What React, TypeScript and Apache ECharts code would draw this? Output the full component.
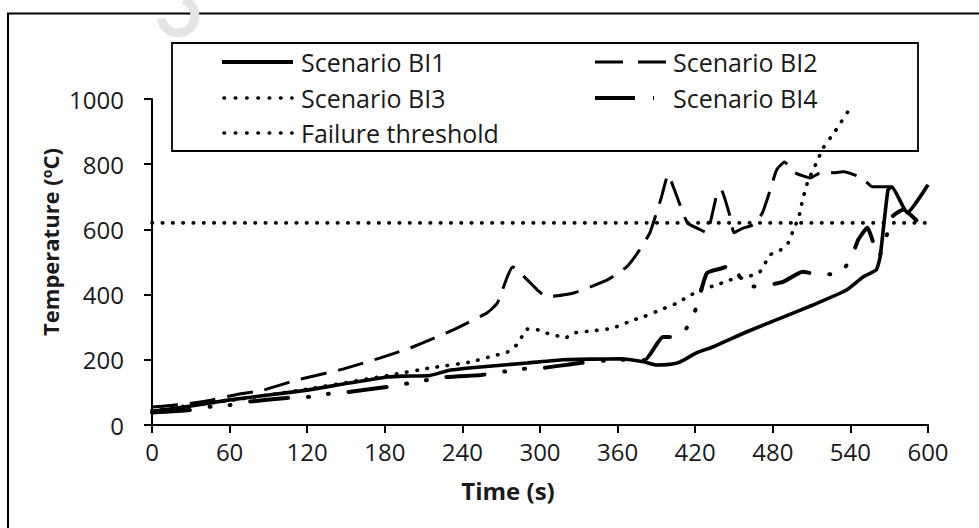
import React, { useEffect, useRef } from "react";
import * as echarts from "echarts";

// ---- data (time in s, temperature in °C) ----
const bi1Time = [0, 30, 60, 90, 120, 150, 182, 195, 215, 230, 254, 290, 318, 340, 362, 380, 390, 400, 408, 421, 434, 460, 486, 511, 537, 550, 560, 563, 569, 572, 584, 600];
const bi1Temp = [42, 58, 77, 92, 107, 127, 147, 150, 152, 168, 178, 190, 200, 202, 203, 194, 184, 186, 193, 221, 240, 286, 328, 368, 414, 455, 476, 516, 721, 731, 651, 737];

const bi2Time = [0, 20, 40, 64, 86, 112, 145, 176, 202, 233, 259, 267, 279, 298, 305, 326, 352, 367, 377, 385, 394, 399, 404, 414, 424, 429, 437, 440, 447, 450, 457, 465, 472, 478, 483, 489, 497, 509, 518, 527, 535, 549, 557, 580];
const bi2Temp = [55, 62, 72, 92, 107, 138, 169, 205, 240, 292, 344, 374, 485, 414, 393, 405, 445, 485, 537, 590, 700, 768, 721, 620, 599, 590, 712, 722, 639, 590, 604, 614, 651, 721, 783, 807, 774, 758, 776, 774, 777, 758, 731, 731];

const bi3Time = [0, 30, 60, 90, 120, 150, 184, 215, 246, 261, 275, 282, 286, 290, 298, 305, 313, 319, 326, 341, 356, 372, 380, 393, 406, 414, 424, 437, 447, 460, 470, 478, 486, 492, 496, 500, 503, 507, 513, 519, 528, 540];
const bi3Temp = [45, 60, 75, 92, 110, 130, 153, 175, 193, 209, 224, 246, 271, 294, 292, 282, 274, 266, 282, 289, 297, 322, 332, 353, 374, 393, 414, 430, 445, 454, 470, 522, 537, 559, 599, 636, 690, 746, 798, 850, 900, 973];

const bi4Time = [0, 29, 43, 60, 74, 104, 120, 135, 151, 182, 227, 254, 271, 287, 302, 331, 360, 381, 395, 407, 416, 421, 429, 440, 449, 455, 460, 468, 488, 503, 515, 532, 541, 546, 553, 562, 568, 571, 581, 591];
const bi4Temp = [38, 46, 55, 61, 71, 83, 86, 95, 101, 117, 147, 153, 163, 172, 175, 190, 200, 199, 270, 270, 313, 362, 466, 480, 491, 450, 426, 425, 439, 470, 462, 465, 516, 568, 605, 516, 580, 635, 660, 628];

const thresholdTime = [0, 600];
const thresholdTemp = [620, 620];

const xTicks = { min: 0, max: 600, interval: 60 };
const yTicks = { min: 0, max: 1000, interval: 200 };

const seriesNames = ["Scenario BI1", "Scenario BI2", "Scenario BI3", "Scenario BI4", "Failure threshold"];

const zip = (a: number[], b: number[]) => a.map((v, i) => [v, b[i]]);

const FONT = "Open Sans";
const INK = "#1a1a1a";

export default function App() {
  const ref = useRef<HTMLDivElement>(null);
  useEffect(() => {
    document.body.style.margin = "0";
    const chart = echarts.init(ref.current!, undefined, { renderer: "svg" });
    const dotStyle = { color: "#000", width: 3.6, type: [0.5, 9.8], cap: "round" as const };
    const option: any = {
      animation: false,
      backgroundColor: "#fff",
      grid: { left: 152, top: 99, right: 51, bottom: 103 },
      xAxis: {
        type: "value",
        min: xTicks.min,
        max: xTicks.max,
        interval: xTicks.interval,
        splitLine: { show: false },
        axisLine: { show: true, lineStyle: { color: "#000", width: 2 } },
        axisTick: { show: true, length: 8, lineStyle: { color: "#000", width: 2 } },
        axisLabel: { margin: 14, color: INK, fontFamily: FONT, fontSize: 24, formatter: (v: number) => String(v) },
      },
      yAxis: {
        type: "value",
        min: yTicks.min,
        max: yTicks.max,
        interval: yTicks.interval,
        splitLine: { show: false },
        axisLine: { show: true, lineStyle: { color: "#000", width: 2 } },
        axisTick: { show: true, length: 8, lineStyle: { color: "#000", width: 2 } },
        axisLabel: { margin: 28, color: INK, fontFamily: FONT, fontSize: 24, formatter: (v: number) => String(v) },
      },
      series: [
        {
          name: seriesNames[0], type: "line", data: zip(bi1Time, bi1Temp), showSymbol: false, smooth: 0.15,
          lineStyle: { color: "#000", width: 3.6, type: "solid" }, z: 5,
        },
        {
          name: seriesNames[1], type: "line", data: zip(bi2Time, bi2Temp), showSymbol: false, smooth: 0.15,
          lineStyle: { color: "#000", width: 3, type: [26, 12] },
        },
        {
          name: seriesNames[2], type: "line", data: zip(bi3Time, bi3Temp), showSymbol: false, smooth: 0.15,
          lineStyle: dotStyle,
        },
        {
          name: seriesNames[3], type: "line", data: zip(bi4Time, bi4Temp), showSymbol: false, smooth: 0.15,
          lineStyle: { color: "#000", width: 4, type: [38, 20, 1, 19, 1, 20], cap: "round" },
        },
        {
          name: seriesNames[4], type: "line", data: zip(thresholdTime, thresholdTemp), showSymbol: false,
          lineStyle: dotStyle,
        },
      ],
      graphic: [
        // outer frame
        { type: "rect", shape: { x: 8, y: 13.5, width: 1000, height: 600 }, style: { fill: "none", stroke: "#000", lineWidth: 2 }, silent: true },
        // faint watermark fragment
        { type: "arc", shape: { cx: 178, cy: 16, r: 17, startAngle: -Math.PI / 2.5, endAngle: Math.PI * 0.95, clockwise: true }, style: { stroke: "#e4e4e4", lineWidth: 9, fill: "none" }, silent: true },
        // legend box (transparent so the BI3 curve shows through)
        { type: "rect", shape: { x: 172, y: 43, width: 746, height: 108 }, style: { fill: "none", stroke: "#000", lineWidth: 1.8 } },
        { type: "line", shape: { x1: 222, y1: 62, x2: 293, y2: 62 }, style: { stroke: "#000", lineWidth: 4 } },
        { type: "line", shape: { x1: 595, y1: 62, x2: 666, y2: 62 }, style: { stroke: "#000", lineWidth: 3, lineDash: [28, 15] } },
        { type: "line", shape: { x1: 224, y1: 98, x2: 292, y2: 98 }, style: { stroke: "#000", lineWidth: 3.6, lineDash: [0.5, 10.8], lineCap: "round" } },
        { type: "line", shape: { x1: 595, y1: 98, x2: 655, y2: 98 }, style: { stroke: "#000", lineWidth: 4, lineDash: [40, 18, 1, 100] } },
        { type: "line", shape: { x1: 224, y1: 133, x2: 292, y2: 133 }, style: { stroke: "#000", lineWidth: 3.6, lineDash: [0.5, 10.8], lineCap: "round" } },
        { type: "text", x: 301, y: 62, style: { text: seriesNames[0], fontFamily: FONT, fontSize: 25, fill: INK, textVerticalAlign: "middle" } },
        { type: "text", x: 673, y: 62, style: { text: seriesNames[1], fontFamily: FONT, fontSize: 25, fill: INK, textVerticalAlign: "middle" } },
        { type: "text", x: 301, y: 98, style: { text: seriesNames[2], fontFamily: FONT, fontSize: 25, fill: INK, textVerticalAlign: "middle" } },
        { type: "text", x: 673, y: 98, style: { text: seriesNames[3], fontFamily: FONT, fontSize: 25, fill: INK, textVerticalAlign: "middle" } },
        { type: "text", x: 301, y: 133, style: { text: seriesNames[4], fontFamily: FONT, fontSize: 25, fill: INK, textVerticalAlign: "middle" } },
        // axis titles
        {
          type: "text", x: 50, y: 242, rotation: Math.PI / 2,
          style: {
            text: "{a|Temperature (}{s|o}{a|C)}",
            rich: {
              a: { fontFamily: FONT, fontSize: 22, fontWeight: "bold", fill: INK },
              s: { fontFamily: FONT, fontSize: 14, fontWeight: "bold", fill: INK, verticalAlign: "top", padding: [0, 0, 8, 0] },
            },
            textAlign: "center", textVerticalAlign: "middle",
          },
        },
        { type: "text", x: 508, y: 490, style: { text: "Time (s)", fontFamily: FONT, fontSize: 24, fontWeight: "bold", fill: INK, textAlign: "center", textVerticalAlign: "middle" } },
      ],
    };
    chart.setOption(option);
    return () => chart.dispose();
  }, []);
  return <div ref={ref} style={{ position: "fixed", left: 0, top: 0, width: 979, height: 528 }} />;
}
